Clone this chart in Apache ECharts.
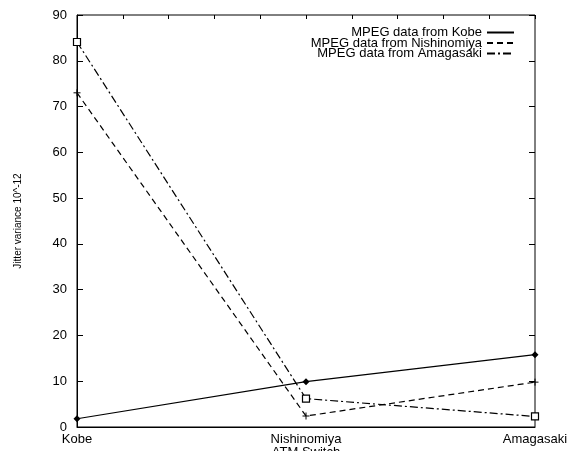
<!DOCTYPE html>
<html>
<head>
<meta charset="utf-8">
<script src="https://cdn.jsdelivr.net/npm/echarts@6/dist/echarts.min.js"></script>
<style>
html,body{margin:0;padding:0;background:#fff;}
#chart{width:569px;height:451px;}
</style>
</head>
<body>
<div id="chart"></div>
<script>
var categories = ['Kobe', 'Nishinomiya', 'Amagasaki'];
var seriesNames = ['MPEG data from Kobe', 'MPEG data from Nishinomiya', 'MPEG data from Amagasaki'];
var kobeData = [1.8, 9.9, 15.8];
var nishinomiyaData = [73.0, 2.4, 9.8];
var amagasakiData = [84.1, 6.2, 2.3];
var yTicks = [0, 10, 20, 30, 40, 50, 60, 70, 80, 90];

var FONT = '"Liberation Sans", Arial, Helvetica, sans-serif';
var chart = echarts.init(document.getElementById('chart'), null, {renderer: 'canvas'});
var plusPath = 'path://M0,5L10,5M5,0L5,10';

var option = {
  animation: false,
  backgroundColor: '#ffffff',
  textStyle: {fontFamily: FONT, color: '#000'},
  grid: {left: 77, right: 34, top: 15, bottom: 24, show: true, borderColor: '#000', borderWidth: 1,
    containLabel: false, outerBoundsMode: 'none'},
  legend: {
    orient: 'vertical',
    right: 54,
    top: 26,
    align: 'right',
    itemWidth: 27,
    itemHeight: 8,
    itemGap: -2.5,
    padding: 0,
    textStyle: {fontFamily: FONT, fontSize: 13, color: '#000'},
    itemStyle: {opacity: 0},
    data: seriesNames
  },
  xAxis: [{
    type: 'category',
    data: categories,
    boundaryGap: false,
    name: 'ATM Switch',
    nameLocation: 'middle',
    nameGap: 19,
    nameMoveOverlap: false,
    nameTextStyle: {fontFamily: FONT, fontSize: 13, color: '#000', verticalAlign: 'top'},
    axisLine: {lineStyle: {color: '#000', width: 1}},
    axisTick: {show: false},
    axisLabel: {fontFamily: FONT, fontSize: 13, color: '#000', margin: 6},
    splitLine: {show: false}
  }, {
    type: 'value',
    position: 'top',
    min: 0, max: 10, interval: 1,
    axisLine: {show: false, onZero: false},
    axisTick: {show: true, inside: true, length: 4, lineStyle: {color: '#000'}},
    axisLabel: {show: false},
    splitLine: {show: false}
  }],
  yAxis: [{
    type: 'value',
    min: 0, max: 90, interval: 10,
    name: 'Jitter variance 10^-12',
    nameLocation: 'middle',
    nameGap: 54,
    nameMoveOverlap: false,
    nameTextStyle: {fontFamily: FONT, fontSize: 10, color: '#000'},
    axisLine: {show: true, onZero: false, lineStyle: {color: '#000', width: 1}},
    axisTick: {show: true, inside: true, length: 6, lineStyle: {color: '#000'}},
    axisLabel: {fontFamily: FONT, fontSize: 13, color: '#000', margin: 10,
      formatter: function (v) { return yTicks.indexOf(v) >= 0 ? String(v) : ''; }},
    splitLine: {show: false}
  }, {
    type: 'value',
    position: 'right',
    min: 0, max: 90, interval: 10,
    axisLine: {show: false, onZero: false},
    axisTick: {show: true, inside: true, length: 6, lineStyle: {color: '#000'}},
    axisLabel: {show: false},
    splitLine: {show: false}
  }],
  series: [{
    name: seriesNames[0],
    type: 'line',
    data: kobeData,
    symbol: 'diamond',
    symbolSize: 7,
    lineStyle: {color: '#000', width: 1.2, type: 'solid'},
    itemStyle: {color: '#000'}
  }, {
    name: seriesNames[1],
    type: 'line',
    data: nishinomiyaData,
    symbol: plusPath,
    symbolSize: 7,
    lineStyle: {color: '#000', width: 1.2, type: [6, 4]},
    itemStyle: {color: '#000', borderColor: '#000', borderWidth: 1}
  }, {
    name: seriesNames[2],
    type: 'line',
    data: amagasakiData,
    symbol: 'rect',
    symbolSize: 7,
    lineStyle: {color: '#000', width: 1.2, type: [8, 3, 2, 3]},
    itemStyle: {color: '#fff', borderColor: '#000', borderWidth: 1.2}
  }]
};
chart.setOption(option);
</script>
</body>
</html>
